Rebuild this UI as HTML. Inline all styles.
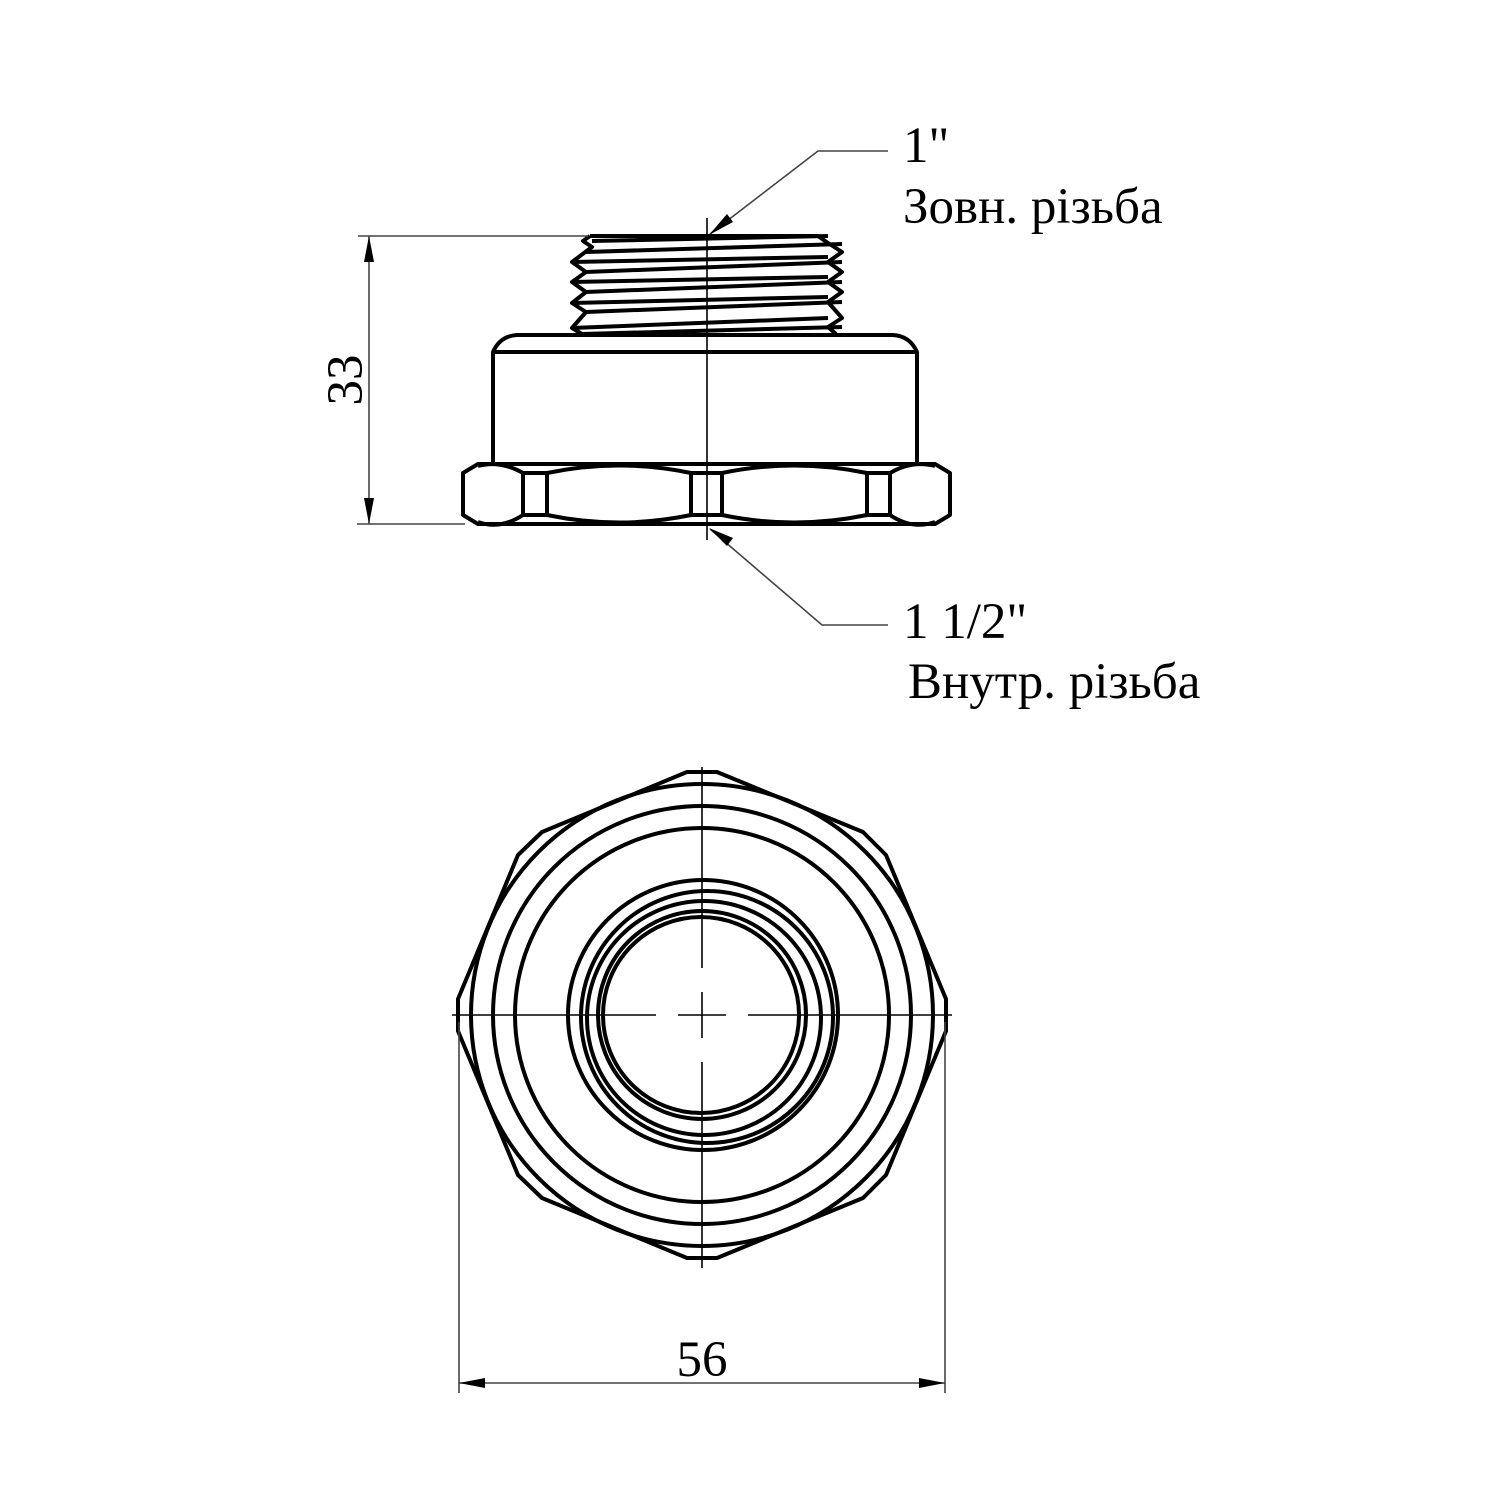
<!DOCTYPE html>
<html><head><meta charset="utf-8"><style>html,body{margin:0;padding:0;background:#fff}svg{display:block}</style></head>
<body>
<svg width="1500" height="1500" viewBox="0 0 1500 1500" xmlns="http://www.w3.org/2000/svg">
<g fill="none" stroke="#000" stroke-width="4" stroke-linejoin="round">
<!-- thread -->
<path d="M590,236 L818,236 L828,243 L842,252 L828,262 L842,272 L828,282 L842,292 L828,302 L842,318 L828,327 L836,334"/>
<path d="M590,236 L583,241 L592,247 L572,262 L586,272 L572,282 L586,292 L572,303 L586,312 L572,328 L582,334"/>
<path d="M592,241 L828,236"/>
<path d="M586,252 L842,244"/>
<path d="M572,262 L828,257"/>
<path d="M586,272 L842,262"/>
<path d="M572,282 L828,277"/>
<path d="M586,292 L842,282"/>
<path d="M572,303 L828,297"/>
<path d="M586,312 L842,302"/>
<path d="M572,328 L828,318"/>
<path d="M582,334 L842,327"/>
<!-- body -->
<path d="M493,464 L493,352 Q500,336 517,335 L893,335 Q910,336 917,352 L917,464"/>
<line x1="493" y1="352" x2="917" y2="352"/>
<!-- nut -->
<path d="M478,464 L935,464 L950,473 L950,515 L935,524 L478,524 L463,515 L463,473 Z"/>
<path d="M523,473 Q500,460 478,466 M523,515 Q500,530 478,522"/>
<path d="M523,473 L523,515 M547,473 L547,515 M523,473 L547,473 M523,515 L547,515"/>
<path d="M691,473 L691,515 M722,473 L722,515 M691,473 L722,473 M691,515 L722,515"/>
<path d="M867,473 L867,515 M890,473 L890,515 M867,473 L890,473 M867,515 L890,515"/>
<path d="M547,473 Q619,458 691,473 M547,515 Q619,530 691,515"/>
<path d="M722,473 Q794,458 867,473 M722,515 Q794,530 867,515"/>
<path d="M890,473 Q912,460 935,466 M890,515 Q912,530 935,522"/>
<!-- bottom view hex -->
<path d="M687,772 L717,772 L863,832 L886,855 L946,999 L946,1031 L886,1175 L863,1198 L717,1258 L687,1258 L542,1198 L518,1175 L458,1031 L458,999 L518,855 L542,832 Z"/>
<circle cx="702" cy="1015" r="231"/>
<circle cx="702" cy="1015" r="209"/>
<circle cx="702" cy="1015" r="187"/>
<circle cx="703" cy="1015" r="135"/>
<circle cx="707" cy="1017" r="126"/>
<circle cx="704" cy="1018" r="117"/>
<circle cx="702" cy="1015" r="104"/>
<circle cx="701" cy="1015" r="98"/>
</g>
<g fill="none" stroke="#000" stroke-width="1.6">
<line x1="707" y1="218" x2="707" y2="540"/>
<line x1="702" y1="767" x2="702" y2="968"/>
<line x1="702" y1="992" x2="702" y2="1038"/>
<line x1="702" y1="1062" x2="702" y2="1268"/>
<line x1="452" y1="1015" x2="656" y2="1015"/>
<line x1="678" y1="1015" x2="726" y2="1015"/>
<line x1="748" y1="1015" x2="952" y2="1015"/>
<line x1="358" y1="236" x2="588" y2="236" stroke="#444"/>
<line x1="357" y1="524" x2="465" y2="524" stroke="#444"/>
<line x1="369" y1="236" x2="369" y2="524" stroke="#444"/>
<line x1="459" y1="1022" x2="459" y2="1393" stroke="#444"/>
<line x1="945" y1="1022" x2="945" y2="1393" stroke="#444"/>
<line x1="459" y1="1383" x2="945" y2="1383" stroke="#444"/>
<polyline points="888,151 818,151 710,234" stroke="#444"/>
<polyline points="888,625 822,625 710,529" stroke="#444"/>
</g>
<g fill="#000">
<polygon points="369,236 364,262 374,262"/>
<polygon points="369,524 364,498 374,498"/>
<polygon points="459,1383 485,1378 485,1388"/>
<polygon points="945,1383 919,1378 919,1388"/>
<polygon points="709,235 727,214 733,222"/>
<polygon points="709,528 727,546 733,538"/>
</g>
<g font-family="Liberation Serif, serif" font-size="51" fill="#000">
<text x="903" y="162">1"</text>
<text x="903" y="223">Зовн. різьба</text>
<text x="903" y="638">1 1/2"</text>
<text x="908" y="698">Внутр. різьба</text>
<text x="702" y="1376" text-anchor="middle">56</text>
<text transform="translate(362,380) rotate(-90)" text-anchor="middle">33</text>
</g>
</svg>
</body></html>
